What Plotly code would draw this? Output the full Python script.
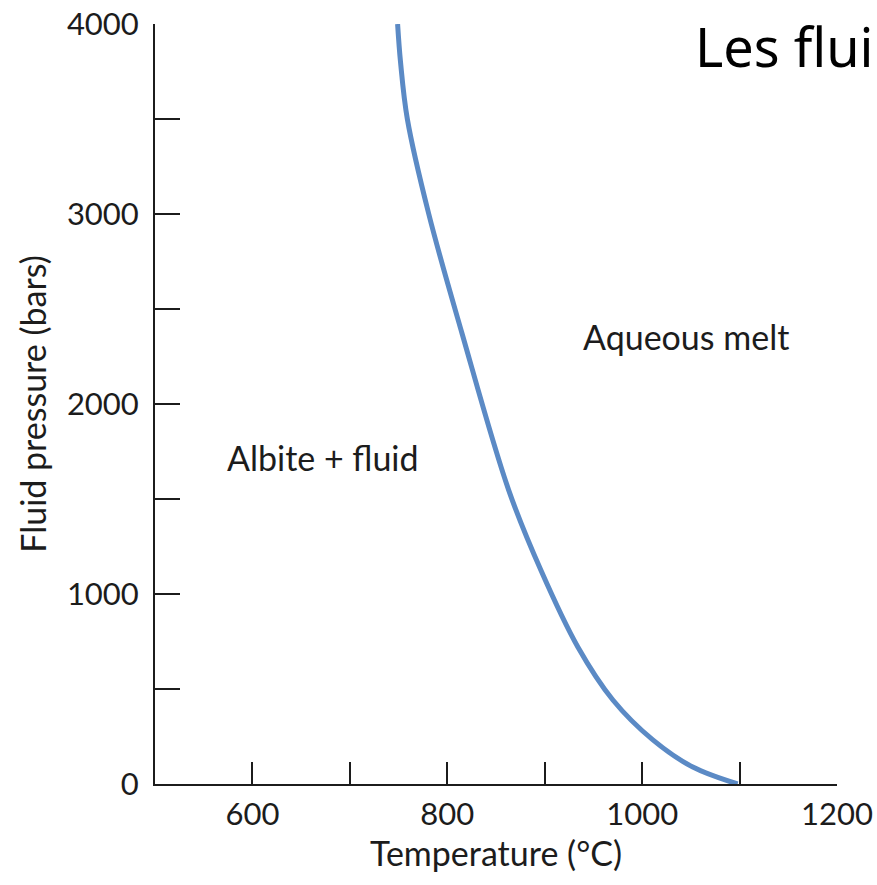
import plotly.graph_objects as go

# Liquidus curve of albite + water
temperature_c = [749, 752, 759, 781, 815, 863, 896, 934, 970, 1011, 1052, 1098]
pressure_bar = [4000, 3800, 3500, 3000, 2374, 1547, 1126, 721, 442, 232, 89, 0]

x_tick_values = [600, 700, 800, 900, 1000, 1100, 1200]
x_tick_labels = ["600", "", "800", "", "1000", "", "1200"]
y_tick_values = [0, 500, 1000, 1500, 2000, 2500, 3000, 3500, 4000]
y_tick_labels = ["0", "", "1000", "", "2000", "", "3000", "", "4000"]

region_labels = ["Albite + fluid", "Aqueous melt"]
region_x = [672, 1045]
region_y = [1721, 2353]

FONT = "Lato"
INK = "#1c1c1c"

fig = go.Figure()
fig.add_trace(go.Scatter(
    x=temperature_c, y=pressure_bar, mode="lines",
    line=dict(color="#5b8ac5", width=5, shape="spline", smoothing=1.0),
    hoverinfo="x+y", showlegend=False,
))

for label, xv, yv in zip(region_labels, region_x, region_y):
    fig.add_annotation(x=xv, y=yv, xref="x", yref="y", text=label, showarrow=False,
                       font=dict(family=FONT, size=34, color=INK),
                       xanchor="center", yanchor="middle")

fig.add_annotation(x=0.789, y=0.971, xref="paper", yref="paper", text="Les flui",
                   showarrow=False, xanchor="left", yanchor="middle",
                   font=dict(family="Noto Sans", size=54, color="#000000"))

fig.update_layout(
    width=877, height=885,
    margin=dict(l=155, r=40, t=24, b=101),
    paper_bgcolor="white", plot_bgcolor="white",
    font=dict(family=FONT, size=31, color=INK),
    showlegend=False,
)
fig.update_xaxes(
    range=[500, 1200], tickmode="array", tickvals=x_tick_values, ticktext=x_tick_labels,
    ticks="inside", ticklen=22, tickwidth=2, tickcolor=INK,
    showline=True, linecolor=INK, linewidth=2, showgrid=False, zeroline=False,
    ticklabelstandoff=2, automargin=False,
    tickfont=dict(family=FONT, size=31, color=INK),
    title=dict(text="Temperature (°C)", font=dict(family=FONT, size=34, color=INK), standoff=10),
)
fig.update_yaxes(
    range=[0, 4000], tickmode="array", tickvals=y_tick_values, ticktext=y_tick_labels,
    ticks="inside", ticklen=25, tickwidth=2, tickcolor=INK,
    showline=True, linecolor=INK, linewidth=2, showgrid=False, zeroline=False,
    ticklabelstandoff=8, automargin=False,
    tickfont=dict(family=FONT, size=31, color=INK),
    title=dict(text="Fluid pressure (bars)", font=dict(family=FONT, size=34, color=INK), standoff=10),
)

fig.write_html("out.html")
